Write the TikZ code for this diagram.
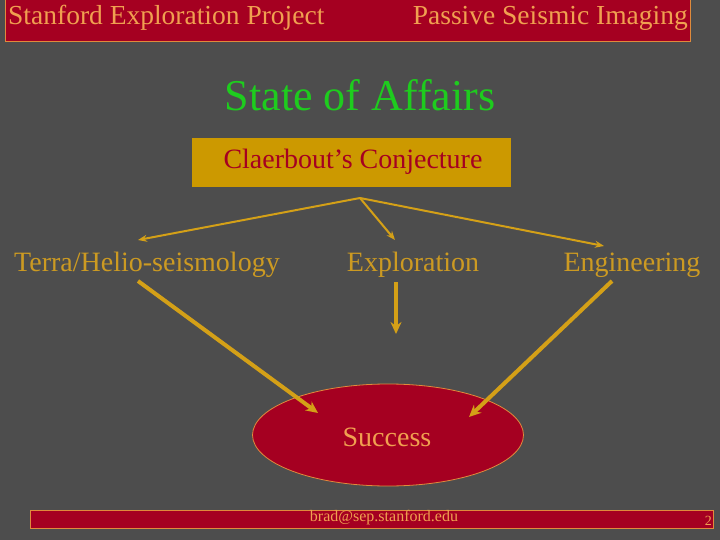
\documentclass[tikz,border=0pt]{standalone}
\usepackage{fontspec}
\setmainfont{Liberation Serif}
\usetikzlibrary{shapes.geometric,arrows.meta}
\definecolor{bg}{HTML}{4D4D4D}
\definecolor{sepred}{HTML}{A50021}
\definecolor{edgeor}{HTML}{E08A3C}
\definecolor{hdtext}{HTML}{F0A050}
\definecolor{gold}{HTML}{D4A017}
\definecolor{labgold}{HTML}{CC9A22}
\definecolor{boxgold}{HTML}{CC9900}
\definecolor{titlegreen}{HTML}{1ECC1E}
\tikzset{
  hdr/.style={font=\fontsize{27.5}{30}\selectfont, text=hdtext, inner sep=0pt},
  lab/.style={font=\fontsize{28}{32}\selectfont, text=labgold, inner sep=0pt},
  thin/.style={draw=gold, line width=2pt, -{Stealth[length=9pt,width=7pt]}},
  thick/.style={draw=gold, line width=4pt, -{Stealth[length=12pt,width=11pt]}},
}
\begin{document}
\begin{tikzpicture}[x=1pt,y=-1pt]
\fill[bg] (0,0) rectangle (720,540);
\useasboundingbox (0,0) rectangle (720,540);
% header
\draw[fill=sepred, draw=edgeor, line width=1pt] (5,0) rectangle (690,42);
\node[hdr, anchor=west] (hl) at (8,18) {Stanford Exploration Project};
\node[hdr, anchor=east] (hr) at (688,18) {Passive Seismic Imaging};
% title
\node[font=\fontsize{44}{50}\selectfont, text=titlegreen, inner sep=0pt] (title) at (360,95) {State of Affairs};
% conjecture box
\node[fill=boxgold, minimum width=319pt, minimum height=49pt, inner sep=0pt] (conj) at (351.5,162.5) {};
\node[font=\fontsize{28}{32}\selectfont, text=sepred, inner sep=0pt] (conjt) at (353,162) {Claerbout’s Conjecture};
\coordinate (src) at (360,198);
% labels
\node[lab, anchor=west] (terra) at (14,265) {Terra/Helio-seismology};
\node[lab] (expl) at (413,265) {Exploration};
\node[lab] (eng) at (632,265) {Engineering};
% success
\node[ellipse, fill=sepred, draw=edgeor, line width=0.8pt, minimum width=271pt, minimum height=102pt, inner sep=0pt] (succ) at (388,435) {};
\node[font=\fontsize{28}{32}\selectfont, text=hdtext, inner sep=0pt] (succt) at (387,437) {Success};
% thin arrows
\coordinate (tl) at (138,240);
\coordinate (tm) at (395,240);
\coordinate (tr) at (604,246);
\draw[thin] (src) -- (tl);
\draw[thin] (src) -- (tm);
\draw[thin] (src) -- (tr);
% thick arrows
\coordinate (a1s) at (138,281);
\coordinate (a1e) at (318,413);
\coordinate (a2s) at (396,282);
\coordinate (a2e) at (396,334);
\coordinate (a3s) at (612,281);
\coordinate (a3e) at (469,417);
\draw[thick] (a1s) -- (a1e);
\draw[thick] (a2s) -- (a2e);
\draw[thick] (a3s) -- (a3e);
% footer
\draw[fill=sepred, draw=edgeor, line width=0.8pt] (30,510) rectangle (713,528);
\node[font=\fontsize{16}{18}\selectfont, text=hdtext, inner sep=0pt] (mail) at (384,518) {brad@sep.stanford.edu};
\node[font=\fontsize{14}{16}\selectfont, text=hdtext, inner sep=0pt, anchor=east] (pg) at (712,521) {2};
\end{tikzpicture}
\end{document}
